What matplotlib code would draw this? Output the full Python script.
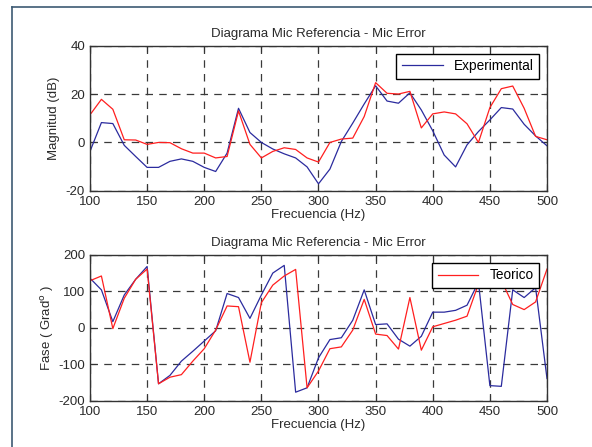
import matplotlib
matplotlib.use("Agg")
import matplotlib.pyplot as plt
from matplotlib.lines import Line2D
import numpy as np

plt.rcParams['font.family'] = ['Liberation Sans', 'DejaVu Sans']
plt.rcParams['font.size'] = 9.5
plt.rcParams['axes.unicode_minus'] = False

freq = np.arange(100, 501, 10)

# magnitud (dB)
mag_exp = [-3.7, 8.2, 7.8, -1.2, -5.8, -10.3, -10.3, -7.8, -6.8, -7.8,
           -10.3, -12.0, -4.4, 14.1, 4.1, 0.0, -2.7, -4.7, -6.4, -10.1,
           -17.1, -11.0, 0.4, 8.0, 15.9, 23.4, 17.1, 16.2, 20.5, 13.4,
           4.8, -5.2, -10.1, -1.0, 4.5, 9.3, 14.4, 13.8, 7.5, 2.7, -1.4]
mag_teo = [11.4, 17.8, 13.7, 1.1, 1.0, -0.8, 0.0, -0.1, -2.6, -4.4,
           -4.4, -6.4, -5.8, 13.0, -0.8, -6.4, -3.7, -2.2, -2.9, -6.4,
           -8.1, 0.0, 1.4, 1.8, 10.7, 24.7, 20.3, 20.0, 21.1, 6.0,
           11.8, 12.6, 11.8, 7.7, 0.0, 14.4, 22.2, 23.3, 14.1, 2.5, 1.1]

# fase (grados)
fase_exp = [136, 104, 17, 90, 133, 168, -153, -130, -91, -64,
            -36, -8, 94, 83, 26, 90, 150, 171, -176, -164,
            -82, -32, -27, 21, 104, 9, 11, -31, -50, -23,
            43, 43, 48, 62, 125, -158, -160, 104, 83, 110, -139]
fase_teo = [129, 142, -2, 81, 133, 161, -153, -135, -128, -91,
            -57, -6, 60, 58, -94, 69, 117, 142, 160, -164,
            -118, -57, -52, -6, 78, -17, -21, -58, 83, -61,
            3, 12, 21, 32, 120, 170, 130, 64, 50, 71, 161]

blue = '#2b2b9e'
red = '#ff1f1f'
txt = '#2a2a2a'

fig = plt.figure(figsize=(5.92, 4.47), dpi=100)
fig.patch.set_facecolor('white')

# marco de la ventana
fc = '#3d5a73'
fig.add_artist(Line2D([12/592, 12/592], [0, 1 - 7/447], color=fc, lw=1.2,
                      transform=fig.transFigure))
fig.add_artist(Line2D([12/592, 1], [1 - 7/447, 1 - 7/447], color=fc, lw=1.2,
                      transform=fig.transFigure))

ax1 = fig.add_axes([0.152, 0.573, 0.772, 0.325])
ax2 = fig.add_axes([0.152, 0.103, 0.772, 0.327])

def style(ax):
    ax.grid(True, color='#3a3a3a', linestyle=(0, (6, 5)), linewidth=0.9)
    ax.tick_params(direction='in', length=4, color='#333333', labelcolor=txt,
                   top=True, right=True, labeltop=False, labelright=False)
    for s in ax.spines.values():
        s.set_color('#333333')
        s.set_linewidth(1.0)
    ax.set_xlim(100, 500)
    ax.set_xticks(np.arange(100, 501, 50))

ax1.plot(freq, mag_exp, color=blue, lw=0.9, label='Experimental')
ax1.plot(freq, mag_teo, color=red, lw=0.9)
style(ax1)
ax1.set_ylim(-20, 40)
ax1.set_yticks([-20, 0, 20, 40])
ax1.set_title('Diagrama Mic Referencia - Mic Error', fontsize=9.5, color=txt, pad=6)
ax1.set_xlabel('Frecuencia (Hz)', color=txt, labelpad=1)
ax1.set_ylabel('Magnitud (dB)', color=txt, labelpad=4)
leg1 = ax1.legend(loc='upper right', fancybox=False, framealpha=1, edgecolor='black',
                  borderaxespad=0.6, handlelength=3.0, fontsize=9.8)
leg1.get_frame().set_linewidth(1.0)

ax2.plot(freq, fase_exp, color=blue, lw=0.9)
ax2.plot(freq, fase_teo, color=red, lw=0.9, label='Teorico')
style(ax2)
ax2.set_ylim(-200, 200)
ax2.set_yticks([-200, -100, 0, 100, 200])
ax2.set_title('Diagrama Mic Referencia - Mic Error', fontsize=9.5, color=txt, pad=6)
ax2.set_xlabel('Frecuencia (Hz)', color=txt, labelpad=1)
ax2.set_ylabel(r'Fase ( Grad$^\mathrm{o}$ )', color=txt, labelpad=2)
leg2 = ax2.legend(loc='upper right', fancybox=False, framealpha=1, edgecolor='black',
                  borderaxespad=0.6, handlelength=3.0, fontsize=9.8)
leg2.get_frame().set_linewidth(1.0)

fig.savefig('out.png', dpi=100)
